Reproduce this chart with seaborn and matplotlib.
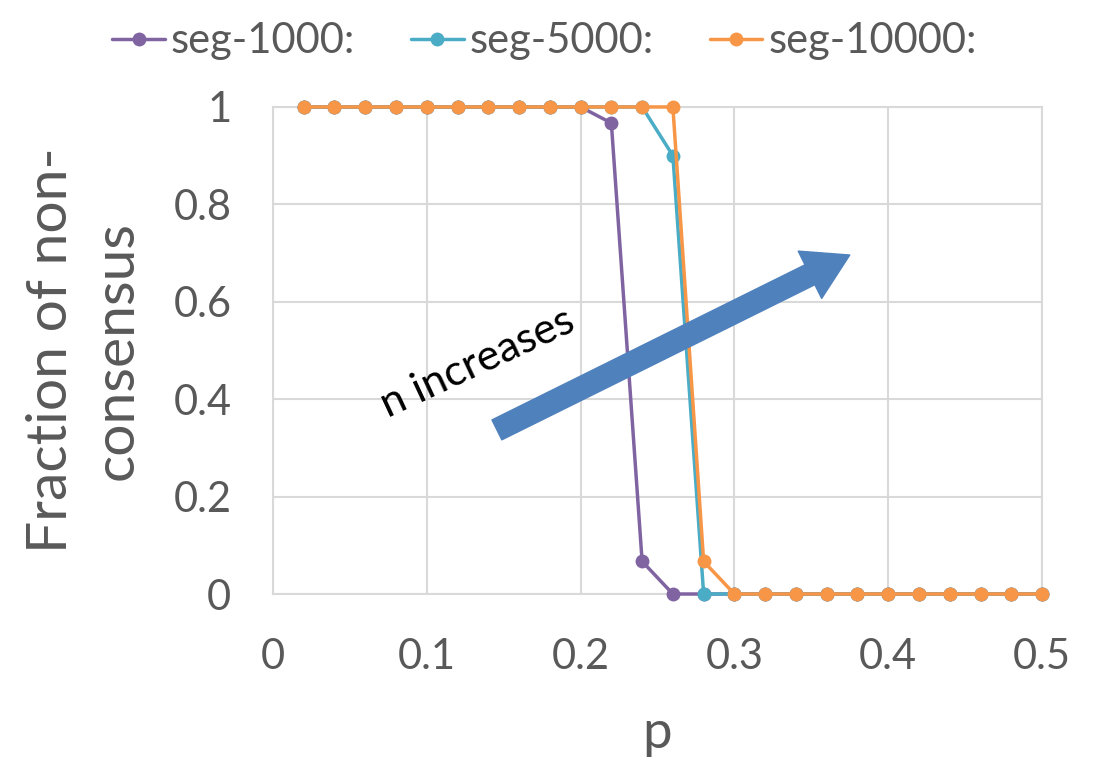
import matplotlib
matplotlib.use("Agg")
import matplotlib.pyplot as plt
import seaborn as sns
import pandas as pd

# Probabilities p
p_values = [0.02, 0.04, 0.06, 0.08, 0.10, 0.12, 0.14, 0.16, 0.18, 0.20, 0.22, 0.24, 0.26,
            0.28, 0.30, 0.32, 0.34, 0.36, 0.38, 0.40, 0.42, 0.44, 0.46, 0.48, 0.50]
# Fraction of non-consensus runs per segment size
seg_1000 = [1, 1, 1, 1, 1, 1, 1, 1, 1, 1, 0.967, 0.067, 0,
            0, 0, 0, 0, 0, 0, 0, 0, 0, 0, 0, 0]
seg_5000 = [1, 1, 1, 1, 1, 1, 1, 1, 1, 1, 1, 1, 0.9,
            0, 0, 0, 0, 0, 0, 0, 0, 0, 0, 0, 0]
seg_10000 = [1, 1, 1, 1, 1, 1, 1, 1, 1, 1, 1, 1, 1,
             0.067, 0, 0, 0, 0, 0, 0, 0, 0, 0, 0, 0]
series_names = ["seg-1000:", "seg-5000:", "seg-10000:"]
series_colors = ["#8064A2", "#4BACC6", "#F79646"]
x_ticks = [0, 0.1, 0.2, 0.3, 0.4, 0.5]
y_ticks = [0, 0.2, 0.4, 0.6, 0.8, 1]

df = pd.DataFrame({
    "p": p_values * 3,
    "frac": seg_1000 + seg_5000 + seg_10000,
    "series": sum([[n] * len(p_values) for n in series_names], []),
})

sns.set_theme(style="white")
plt.rcParams["font.family"] = ["Lato", "DejaVu Sans"]

fig = plt.figure(figsize=(10.94, 7.64), dpi=100)
ax = fig.add_axes([0.2495, 0.2225, 0.703, 0.6375])

sns.lineplot(data=df, x="p", y="frac", hue="series", hue_order=series_names,
             palette=series_colors, marker="o", markersize=10, markeredgewidth=0,
             linewidth=2.5, ax=ax, clip_on=False, zorder=3)

ax.set_xlim(0, 0.5)
ax.set_ylim(0, 1)
ax.set_xticks(x_ticks)
ax.set_yticks(y_ticks)
ax.set_xticklabels([f"{v:g}" for v in x_ticks])
ax.set_yticklabels([f"{v:g}" for v in y_ticks])
ax.grid(True, color="#D9D9D9", linewidth=1.5)
for s in ax.spines.values():
    s.set_color("#D9D9D9")
    s.set_linewidth(1.5)
ax.tick_params(axis="both", length=0, labelsize=30, colors="#595959")
ax.tick_params(axis="y", pad=30)
ax.tick_params(axis="x", pad=32)
ax.set_xlabel("p", fontsize=38, color="#595959", labelpad=24)
ax.set_ylabel("Fraction of non-\nconsensus", fontsize=41, color="#595959",
              labelpad=22, linespacing=1.35)

handles, labels = ax.get_legend_handles_labels()
fig.legend(handles, labels, loc="upper center", bbox_to_anchor=(0.498, 1.02),
           ncol=3, frameon=False, fontsize=30, handlelength=1.25,
           handletextpad=0.15, columnspacing=1.35, labelcolor="#595959")
ax.get_legend().remove()

# Trend arrow
ax.annotate("", xy=(0.375, 0.696), xytext=(0.1456, 0.337),
            arrowprops=dict(arrowstyle="simple,head_length=1.6,head_width=1.9,tail_width=0.8",
                            color="#4F81BD", mutation_scale=20, shrinkA=0, shrinkB=0),
            zorder=5)
ax.text(0.133, 0.475, "n increases", fontsize=31, rotation=25, color="black",
        ha="center", va="center", zorder=6)

fig.savefig("out.png", dpi=100)
